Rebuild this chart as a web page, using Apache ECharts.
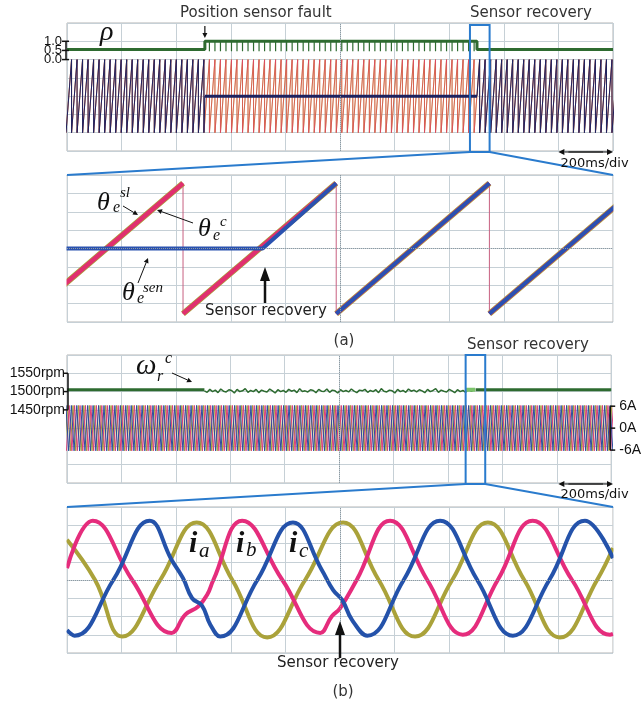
<!DOCTYPE html>
<html><head><meta charset="utf-8">
<script src="https://cdn.jsdelivr.net/npm/echarts@6/dist/echarts.min.js"></script>
<style>html,body{margin:0;padding:0;background:#fff}#c{width:644px;height:704px}</style>
</head><body><div id="c"></div>
<script>
// ---------------- DATA (ms, degrees, rpm, A) ----------------
const timeSpanMs = [0, 2000];
const faultMs = 505;
const recoverMs = 1501.8;
const zoomAWindowMs = [1476, 1548];
const zoomBWindowMs = [1465, 1537];

// electrical angle sawtooth: instants of the 360 -> 0 drop
const sawDropsMs = [-3.5,16.7,36.9,57.1,77.3,97.5,117.7,137.9,158.1,178.3,198.5,218.7,238.9,259.1,279.3,299.5,319.7,339.9,360.1,380.3,
400.5,420.7,440.9,461.1,481.3,501.5,521.7,541.9,562.1,582.3,602.5,622.7,642.9,663.1,683.3,703.5,723.7,743.9,764.1,784.3,
804.5,824.7,844.9,865.1,885.3,905.5,925.7,945.9,966.1,986.3,1006.5,1026.7,1046.9,1067.1,1087.3,1107.5,1127.7,1147.9,1168.1,1188.3,
1208.5,1228.7,1248.9,1269.1,1289.3,1309.5,1329.7,1349.9,1370.1,1390.3,1410.5,1430.7,1450.9,1471.1,1491.3,1511.5,1531.7,1551.9,1572.1,1592.3,
1612.5,1632.7,1652.9,1673.1,1693.3,1713.5,1733.7,1753.9,1774.1,1794.3,1814.5,1834.7,1854.9,1875.1,1895.3,1915.5,1935.7,1955.9,1976.1,1996.3,2016.5];
const sawRangeDeg = [0, 360];
const senHoldDeg = 180;

// rho
const rhoNormal = 0.55, rhoFault = 1.0, rhoDip = 0.45;
const rhoTickValues = [0, 0.5, 1.0];

// speed (rpm)
const speedSteadyRpm = 1505;
const speedFaultStartMs = 505, speedFaultStepMs = 10;
const speedFaultRpm = [1502,1498,1506,1500,1504,1497,1507,1501,1499,1505,1503,1496,1506,1500,1502,1508,1498,1503,1500,1506,
1497,1504,1501,1499,1507,1502,1496,1505,1500,1503,1498,1506,1501,1504,1497,1508,1500,1502,1499,1505,
1503,1497,1506,1501,1500,1507,1498,1504,1502,1496,1505,1500,1503,1499,1507,1501,1497,1504,1502,1506,
1498,1503,1500,1505,1497,1508,1501,1499,1504,1502,1496,1506,1500,1503,1498,1507,1501,1504,1499,1505,
1502,1497,1506,1500,1503,1508,1498,1504,1501,1499,1506,1502,1497,1505,1500,1503,1498,1507,1501,1504];
const speedRecoverBurstMs = [1466, 1500];
const speedTickValues = [1450, 1500, 1550];
const currentTickValues = [-6, 0, 6];

// phase currents, 2 s view: alternating trough / peak instants (first entry is a trough)
const bandAmpA = 6.2;
const bandRedExtMs = [-2,8,18,28,38,48,58,68,78,88,
98,108,118,128,138,148,158,168,178,188,
198,208,218,228,238,248,258,268,278,288,
298,308,318,328,338,348,358,368,378,388,
398,408,418,428,438,448,458,468,478,488,
498,508,518,528,538,548,558,568,578,588,
598,608,618,628,638,648,658,668,678,688,
698,708,718,728,738,748,758,768,778,788,
798,808,818,828,838,848,858,868,878,888,
898,908,918,928,938,948,958,968,978,988,
998,1008,1018,1028,1038,1048,1058,1068,1078,1088,
1098,1108,1118,1128,1138,1148,1158,1168,1178,1188,
1198,1208,1218,1228,1238,1248,1258,1268,1278,1288,
1298,1308,1318,1328,1338,1348,1358,1368,1378,1388,
1398,1408,1418,1428,1438,1448,1458,1468,1478,1488,
1498,1508,1518,1528,1538,1548,1558,1568,1578,1588,
1598,1608,1618,1628,1638,1648,1658,1668,1678,1688,
1698,1708,1718,1728,1738,1748,1758,1768,1778,1788,
1798,1808,1818,1828,1838,1848,1858,1868,1878,1888,
1898,1908,1918,1928,1938,1948,1958,1968,1978,1988,
1998,2008];
const bandBlueExtMs = [-14,-4,6,16,26,36,46,56,66,76,86,
96,106,116,126,136,146,156,166,176,186,
196,206,216,226,236,246,256,266,276,286,
296,306,316,326,336,346,356,366,376,386,
396,406,416,426,436,446,456,466,476,486,
496,506,516,526,536,546,556,566,576,586,
596,606,616,626,636,646,656,666,676,686,
696,706,716,726,736,746,756,766,776,786,
796,806,816,826,836,846,856,866,876,886,
896,906,916,926,936,946,956,966,976,986,
996,1006,1016,1026,1036,1046,1056,1066,1076,1086,
1096,1106,1116,1126,1136,1146,1156,1166,1176,1186,
1196,1206,1216,1226,1236,1246,1256,1266,1276,1286,
1296,1306,1316,1326,1336,1346,1356,1366,1376,1386,
1396,1406,1416,1426,1436,1446,1456,1466,1476,1486,
1496,1506,1516,1526,1536,1546,1556,1566,1576,1586,
1596,1606,1616,1626,1636,1646,1656,1666,1676,1686,
1696,1706,1716,1726,1736,1746,1756,1766,1776,1786,
1796,1806,1816,1826,1836,1846,1856,1866,1876,1886,
1896,1906,1916,1926,1936,1946,1956,1966,1976,1986,
1996,2006];
const bandOliveExtMs = [-8,2,12,22,32,42,52,62,72,82,92,
102,112,122,132,142,152,162,172,182,192,
202,212,222,232,242,252,262,272,282,292,
302,312,322,332,342,352,362,372,382,392,
402,412,422,432,442,452,462,472,482,492,
502,512,522,532,542,552,562,572,582,592,
602,612,622,632,642,652,662,672,682,692,
702,712,722,732,742,752,762,772,782,792,
802,812,822,832,842,852,862,872,882,892,
902,912,922,932,942,952,962,972,982,992,
1002,1012,1022,1032,1042,1052,1062,1072,1082,1092,
1102,1112,1122,1132,1142,1152,1162,1172,1182,1192,
1202,1212,1222,1232,1242,1252,1262,1272,1282,1292,
1302,1312,1322,1332,1342,1352,1362,1372,1382,1392,
1402,1412,1422,1432,1442,1452,1462,1472,1482,1492,
1502,1512,1522,1532,1542,1552,1562,1572,1582,1592,
1602,1612,1622,1632,1642,1652,1662,1672,1682,1692,
1702,1712,1722,1732,1742,1752,1762,1772,1782,1792,
1802,1812,1822,1832,1842,1852,1862,1872,1882,1892,
1902,1912,1922,1932,1942,1952,1962,1972,1982,1992,
2002];

// phase currents in the zoom window (ms from window start, A)
const zoomBRed = [[0,1.3],[3.4,6.5],[8.6,0],[13.8,-5.8],[15.6,-3.8],[17.3,-2.9],[18.5,-1.6],[19.3,0],[23.1,6.5],[28.4,0],[33.4,-5.8],[34.9,-4.0],[36.0,-3.1],[38.2,0],[42.6,6.5],[47.5,0],[52.2,-6.0],[56.8,0],[61.4,6.5],[66.6,0],[71.6,-6.0],[72,-5.9]];
const zoomBBlue = [[0,-5.5],[1.0,-6.1],[6.1,0],[10.9,6.5],[13.8,2.2],[15.3,0.2],[16.5,-2.0],[17.8,-2.8],[18.9,-4.9],[20.2,-6.2],[25.1,0],[29.8,6.3],[33.6,1.1],[35.1,-1.1],[36.3,-2.2],[37.6,-4.4],[39.6,-6.1],[44.4,0],[49.2,6.5],[54.1,0],[58.8,-6.1],[63.6,0],[68.3,6.5],[72,2.4]];
const zoomBOlive = [[0,4.4],[3.7,0],[7.3,-6.2],[12.3,0],[17.1,6.3],[21.8,0],[26.4,-6.3],[31.4,0],[36.4,6.3],[41.1,0],[45.9,-6.2],[50.8,0],[55.5,6.3],[60.3,0],[65.0,-6.3],[69.9,0],[72,3.5]];

// ---------------- BUILD ----------------
const C = {red:'#e0306f', olive:'#aaa23a', blue:'#2a52b0', navy:'#1c2260', green:'#2e6b30', lgreen:'#7cc46a', box:'#2a7bcd', grid:'#c6d0d6'};
const [LO, HI] = sawRangeDeg;

function sawContinuous(drops){ const p=[[drops[0],LO]]; for(let i=1;i<drops.length;i++){p.push([drops[i],HI]);p.push([drops[i],LO]);} return p; }
function sawSensor(drops){
  const p=[]; const pre=drops.filter(d=>d<faultMs), post=drops.filter(d=>d>recoverMs);
  p.push([pre[0],LO]); for(let i=1;i<pre.length;i++){p.push([pre[i],HI]);p.push([pre[i],LO]);}
  p.push([faultMs,senHoldDeg]); p.push([recoverMs,senHoldDeg]);
  for(const d of post){p.push([d,HI]);p.push([d,LO]);}
  return p;
}
function ramps(drops){ const p=[]; for(let i=0;i<drops.length-1;i++){ p.push([drops[i],LO]);p.push([drops[i+1],HI]);p.push([drops[i+1],'-']);} return p; }
function dropLines(drops){ const p=[]; for(const d of drops){p.push([d,HI]);p.push([d,LO]);p.push([d,'-']);} return p; }
function zig(ext){ return ext.map((t,i)=>[t, i%2===0 ? -bandAmpA : bandAmpA]); }

const winDrops = sawDropsMs.filter(d=>d>zoomAWindowMs[0]-25 && d<zoomAWindowMs[1]+25);
const senZoom = [[faultMs,senHoldDeg],[recoverMs,senHoldDeg]];
{ const post = winDrops.filter(d=>d>recoverMs); senZoom.push([post[0],HI]); senZoom.push([post[0],'-']); ramps(post).forEach(q=>senZoom.push(q)); }

const rhoMain = [[timeSpanMs[0],rhoNormal],[faultMs,rhoNormal],[faultMs,rhoFault],[recoverMs,rhoFault],[recoverMs,rhoNormal],[timeSpanMs[1],rhoNormal]];
const rhoDips = []; sawDropsMs.filter(d=>d>faultMs && d<recoverMs).forEach(d=>{rhoDips.push([d,rhoFault]);rhoDips.push([d,rhoDip]);rhoDips.push([d,'-']);});

const speedA = [[timeSpanMs[0],speedSteadyRpm],[faultMs,speedSteadyRpm]];
const speedN = speedFaultRpm.map((v,i)=>[speedFaultStartMs+i*speedFaultStepMs, v]);
const speedC = [[recoverMs,speedSteadyRpm],[timeSpanMs[1],speedSteadyRpm]];
const speedBurst = [[speedRecoverBurstMs[0],speedSteadyRpm],[speedRecoverBurstMs[1],speedSteadyRpm]];

const gridLine = {show:true, lineStyle:{color:C.grid, width:1}};
function xa(g,min,max,interval){ return {type:'value',gridIndex:g,min,max,interval,axisLine:{show:false},axisTick:{show:false},axisLabel:{show:false},splitLine:gridLine}; }
function yHidden(g,min,max){ return {type:'value',gridIndex:g,min,max,show:false}; }
function ln(xi,yi,data,color,width,extra){ return Object.assign({type:'line',xAxisIndex:xi,yAxisIndex:yi,data,symbol:'none',showSymbol:false,silent:true,animation:false,connectNulls:false,clip:true,lineStyle:{color,width},itemStyle:{color}},extra||{}); }
const centerLine = (arr)=>({silent:true,symbol:'none',label:{show:false},lineStyle:{color:'#8d9aa2',type:'dotted',width:1},data:arr});
const lblFont = {fontFamily:'Liberation Sans', fontSize:14, color:'#111'};

const option = {
  backgroundColor:'#fff', animation:false,
  grid:[
    {left:67,top:23,width:546,height:128,show:true,borderColor:'#b4b4b4'},
    {left:67,top:175,width:546,height:147,show:true,borderColor:'#b4b4b4'},
    {left:67,top:355,width:546,height:128,show:true,borderColor:'#b4b4b4'},
    {left:67,top:507,width:546,height:146,show:true,borderColor:'#b4b4b4'}
  ],
  xAxis:[ xa(0,timeSpanMs[0],timeSpanMs[1],200), xa(1,zoomAWindowMs[0],zoomAWindowMs[1],7.2), xa(2,timeSpanMs[0],timeSpanMs[1],200), xa(3,0,72,7.2) ],
  yAxis:[
    {type:'value',gridIndex:0,min:-5,max:2,interval:1,axisLine:{show:false},axisTick:{show:false},axisLabel:{show:false},splitLine:gridLine},
    yHidden(0,-90,540),
    yHidden(0,-5,2),
    {type:'value',gridIndex:1,min:-4,max:4,interval:1,axisLine:{show:false},axisTick:{show:false},axisLabel:{show:false},splitLine:gridLine},
    yHidden(1,-22.5,382.5),
    {type:'value',gridIndex:2,min:1250,max:1600,interval:50,position:'left',axisLine:{show:false},axisTick:{show:false},splitLine:gridLine,
      axisLabel:Object.assign({customValues:speedTickValues,formatter:v=>v+'rpm',margin:2,hideOverlap:false},lblFont)},
    {type:'value',gridIndex:2,min:-15,max:20,position:'right',axisLine:{show:false},axisTick:{show:false},splitLine:{show:false},
      axisLabel:Object.assign({customValues:currentTickValues,formatter:v=>v+'A',margin:8,hideOverlap:false},lblFont)},
    {type:'value',gridIndex:3,min:-8,max:8,interval:2,axisLine:{show:false},axisTick:{show:false},axisLabel:{show:false},splitLine:gridLine}
  ],
  series:[
    // (a) overview
    ln(0,0,rhoMain,C.green,3,{markLine:centerLine([{xAxis:1000}])}),
    ln(0,0,rhoDips,C.green,1.2),
    ln(0,1,sawContinuous(sawDropsMs),'#c9a030',1),
    ln(0,1,sawContinuous(sawDropsMs),C.red,1,{lineStyle:{color:C.red,width:1,opacity:0.55}}),
    ln(0,1,sawSensor(sawDropsMs),C.navy,1),
    ln(0,1,[[faultMs,senHoldDeg],[recoverMs,senHoldDeg]],C.navy,3),
    // (a) zoom
    ln(1,4,dropLines(winDrops),'#c86080',1,{markLine:centerLine([{xAxis:(zoomAWindowMs[0]+zoomAWindowMs[1])/2},{yAxis:180}])}),
    ln(1,4,ramps(winDrops),C.olive,6),
    ln(1,4,ramps(winDrops),C.red,4.5),
    ln(1,4,senZoom,C.blue,4),
    // (b) overview
    ln(2,5,speedA,C.green,3,{markLine:centerLine([{xAxis:1000}])}),
    ln(2,5,speedN,C.green,1.5),
    ln(2,5,speedBurst,C.lgreen,4),
    ln(2,5,speedC,C.green,3),
    ln(2,6,zig(bandOliveExtMs),'#a39c3c',1),
    ln(2,6,zig(bandRedExtMs),'#d8407a',1),
    ln(2,6,zig(bandBlueExtMs),'#2c4c9c',1),
    // (b) zoom
    ln(3,7,zoomBOlive,C.olive,4,{smooth:0.45,markLine:centerLine([{xAxis:36},{yAxis:0}])}),
    ln(3,7,zoomBRed,'#e52c7c',4,{smooth:0.45}),
    ln(3,7,zoomBBlue,'#2452aa',4,{smooth:0.45})
  ]
};
const chart = echarts.init(document.getElementById('c'), null, {renderer:'canvas'});
chart.setOption(option);

// ---------------- ANNOTATIONS ----------------
const px=(xi,v)=>chart.convertToPixel({xAxisIndex:xi},v);
const py=(yi,v)=>chart.convertToPixel({yAxisIndex:yi},v);
const G=[];
const line=(x1,y1,x2,y2,stroke,w)=>G.push({type:'line',z:50,silent:true,shape:{x1,y1,x2,y2},style:{stroke,lineWidth:w}});
const text=(x,y,t,font,align,fill)=>G.push({type:'text',z:60,silent:true,x,y,style:{text:t,font,fill:fill||'#222',align:align||'left',verticalAlign:'middle'}});
function arrow(x1,y1,x2,y2,w,hl,hw,col){
  const dx=x2-x1, dy=y2-y1, L=Math.hypot(dx,dy), ux=dx/L, uy=dy/L;
  const bx=x2-ux*hl, by=y2-uy*hl;
  line(x1,y1,bx,by,col||'#111',w);
  G.push({type:'polygon',z:51,silent:true,shape:{points:[[x2,y2],[bx-uy*hw,by+ux*hw],[bx+uy*hw,by-ux*hw]]},style:{fill:col||'#111'}});
}
// mask thick zoom traces that spill past the panel edges
const gA = {l:px(1,zoomAWindowMs[0]), r:px(1,zoomAWindowMs[1]), t:py(3,4), b:py(3,-4)};
const gB = {l:px(3,0), r:px(3,72), t:py(7,8), b:py(7,-8)};
[gA,gB].forEach(g=>{
  G.push({type:'rect',z:40,silent:true,shape:{x:g.l-14,y:g.t+1,width:13.5,height:g.b-g.t-1},style:{fill:'#fff'}});
  G.push({type:'rect',z:40,silent:true,shape:{x:g.r+0.5,y:g.t+1,width:14,height:g.b-g.t-1},style:{fill:'#fff'}});
});
// zoom boxes and connectors
const ax1=px(0,zoomAWindowMs[0]), ax2=px(0,zoomAWindowMs[1]);
const bx1=px(2,zoomBWindowMs[0]), bx2=px(2,zoomBWindowMs[1]);
const aTop=py(0,2)+2, aBot=py(0,-5)+1, bTop=py(5,1600), bBot=py(5,1250)+1;
G.push({type:'rect',z:55,silent:true,shape:{x:ax1,y:aTop,width:ax2-ax1,height:aBot-aTop},style:{fill:'none',stroke:C.box,lineWidth:2}});
G.push({type:'rect',z:55,silent:true,shape:{x:bx1,y:bTop,width:bx2-bx1,height:bBot-bTop},style:{fill:'none',stroke:C.box,lineWidth:2}});
line(ax1,aBot,gA.l,gA.t,C.box,2); line(ax2,aBot,gA.r,gA.t,C.box,2);
line(bx1,bBot,gB.l,gB.t,C.box,2); line(bx2,bBot,gB.r,gB.t,C.box,2);

// rho tick labels and bracket
const rx=px(0,0)-1;
line(rx,py(2,1),rx,py(2,0),'#111',1.5);
rhoTickValues.forEach(v=>{ line(rx-4,py(2,v),rx+3,py(2,v),'#111',1.5); text(rx-4,py(2,v),v.toFixed(1),'13px "Liberation Sans"','right','#111'); });
const sx=px(2,0)+1;
line(sx,py(5,1450),sx,py(5,1550),'#111',1.5);
speedTickValues.forEach(v=>line(sx-5,py(5,v),sx,py(5,v),'#111',1.5));
const cx=px(2,2000)-1;
line(cx,py(6,-6),cx,py(6,6),'#111',1.5);
currentTickValues.forEach(v=>line(cx,py(6,v),cx+5,py(6,v),'#111',1.5));

// 200 ms/div markers
const dA=py(0,-5)+1, dB=py(5,1250)+1;
[[dA,dA+12],[dB,dB+11]].forEach(([yy,ty])=>{
  const x1=px(0,1800), x2=px(0,2000);
  arrow(x2-10,yy,x1,yy,1.2,6,3); arrow(x1+10,yy,x2,yy,1.2,6,3);
  text(x1+2,ty,'200ms/div','13px "DejaVu Sans"','left','#111');
});

// titles
const sans='15px "DejaVu Sans"';
text(180,13,'Position sensor fault',sans,'left','#333');
arrow(px(0,faultMs),26,px(0,faultMs),38,1.2,5,2.5);
text(470,13,'Sensor recovery',sans,'left','#333');
text(344,341,'(a)',sans,'center','#333');
text(467,345,'Sensor recovery',sans,'left','#333');
text(343,692,'(b)',sans,'center','#333');

// math labels
const it=(s)=>'italic '+s+'px "Liberation Serif"';
text(100,33,'\u03C1',it(28),'left','#111');
text(97,203,'\u03B8',it(26),'left','#111'); text(113,208,'e',it(16),'left','#111'); text(120,193,'sl',it(15),'left','#111');
arrow(123,206,138,215,1,5,2.5);
text(198,229,'\u03B8',it(26),'left','#111'); text(213,236,'e',it(16),'left','#111'); text(220,222,'c',it(15),'left','#111');
arrow(193,223,157,210,1,5,2.5);
text(122,293,'\u03B8',it(26),'left','#111'); text(137,299,'e',it(16),'left','#111'); text(143,288,'sen',it(15),'left','#111');
arrow(138,283,148,258,1,5,2.5);
text(205,311,'Sensor recovery',sans,'left','#222');
arrow(265,303,265,267,2.5,14,5);

text(136,366,'\u03C9',it(29),'left','#111'); text(157,377,'r',it(16),'left','#111'); text(165,359,'c',it(16),'left','#111');
arrow(172,373,192,382,1,5,2.5);

const bi='bold italic 30px "Liberation Serif"';
text(189,544,'i',bi,'left','#111'); text(199,551,'a',it(21),'left','#111');
text(236,544,'i',bi,'left','#111'); text(246,550,'b',it(21),'left','#111');
text(289,544,'i',bi,'left','#111'); text(299,551,'c',it(21),'left','#111');
text(277,663,'Sensor recovery',sans,'left','#222');
arrow(px(3,36),658,px(3,36),621,2.5,14,5);

chart.setOption({graphic:G});
</script>
</body></html>
